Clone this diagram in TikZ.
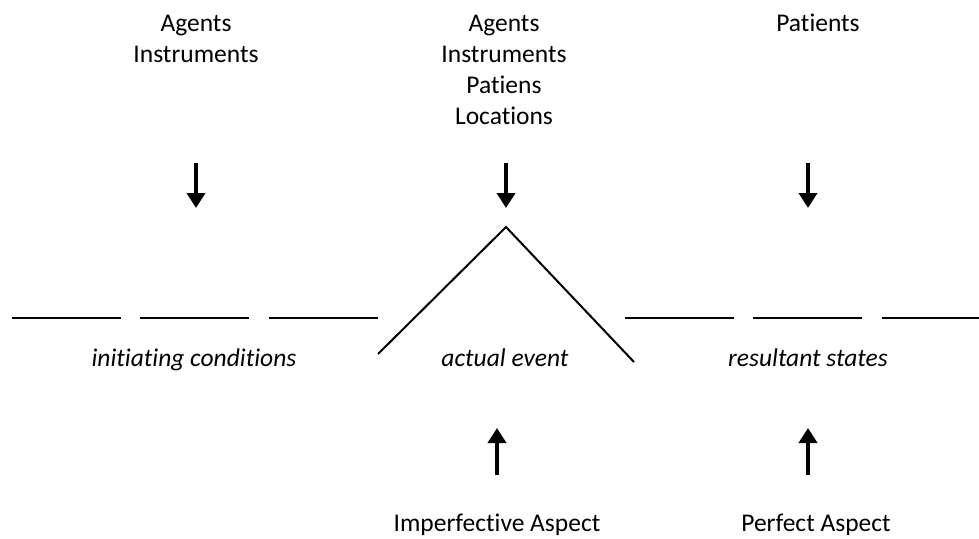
\documentclass[tikz,border=0pt]{standalone}
\usepackage{fontspec}
\setmainfont[Ligatures=NoCommon]{Carlito}
\usetikzlibrary{arrows.meta}
\begin{document}
\begin{tikzpicture}[x=1pt,y=-1pt,
  lbl/.style={font=\fontsize{25.5}{31}\selectfont, align=center, inner sep=0pt, anchor=base},
  ilbl/.style={lbl, font=\fontsize{25.5}{31}\selectfont\itshape},
  seg/.style={line width=2pt},
  bigarrow/.style={line width=4.5pt, -{Triangle[width=18pt,length=15pt]}}]
\useasboundingbox (0,0) rectangle (979,538);
% top labels (base anchor = last line)
\node[lbl] (tl) at (196,62) {Agents\\Instruments};
\node[lbl] (tm) at (504,124) {Agents\\Instruments\\Patiens\\Locations};
\node[lbl] (tr) at (818,31) {Patients};
% down arrows
\coordinate (d1a) at (196,163); \coordinate (d1b) at (196,208);
\coordinate (d2a) at (506,163); \coordinate (d2b) at (506,208);
\coordinate (d3a) at (808,163); \coordinate (d3b) at (808,208);
\draw[bigarrow] (d1a) -- (d1b);
\draw[bigarrow] (d2a) -- (d2b);
\draw[bigarrow] (d3a) -- (d3b);
% time line
\coordinate (s1a) at (12,318); \coordinate (s1b) at (121,318);
\coordinate (s2a) at (140,318); \coordinate (s2b) at (249,318);
\coordinate (s3a) at (269,318); \coordinate (s3b) at (378,318);
\coordinate (s4a) at (625,318); \coordinate (s4b) at (734,318);
\coordinate (s5a) at (753,318); \coordinate (s5b) at (862,318);
\coordinate (s6a) at (882,318); \coordinate (s6b) at (979,318);
\foreach \i in {1,...,6} \draw[seg] (s\i a) -- (s\i b);
% event peak
\coordinate (pl) at (378,354); \coordinate (pk) at (506,227); \coordinate (pr) at (634,362);
\draw[seg] (pl) -- (pk) -- (pr);
% phase labels
\node[ilbl] (ic) at (194,366) {initiating conditions};
\node[ilbl] (ae) at (505,366) {actual event};
\node[ilbl] (rs) at (808,366) {resultant states};
% up arrows
\coordinate (u1a) at (497,475); \coordinate (u1b) at (497,428);
\coordinate (u2a) at (808,475); \coordinate (u2b) at (808,428);
\draw[bigarrow] (u1a) -- (u1b);
\draw[bigarrow] (u2a) -- (u2b);
% bottom labels
\node[lbl] (ia) at (497,531) {Imperfective Aspect};
\node[lbl] (pa) at (816,531) {Perfect Aspect};
\end{tikzpicture}
\end{document}
